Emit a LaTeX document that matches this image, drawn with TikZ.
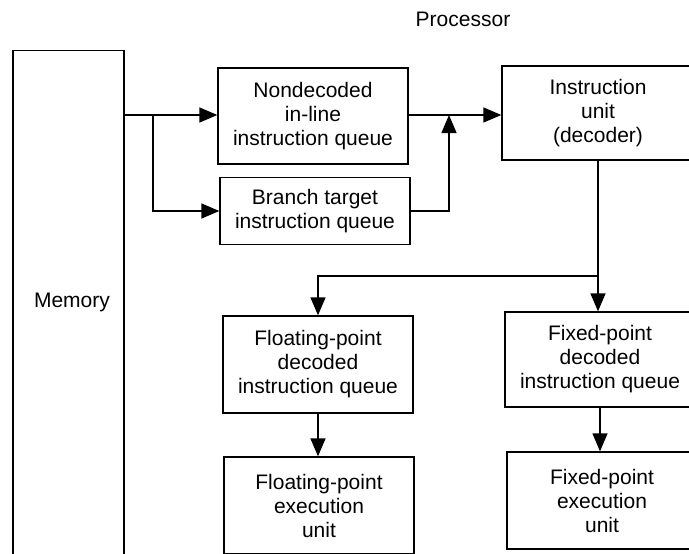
\documentclass[tikz,border=0pt]{standalone}
\usepackage{fontspec}
\setmainfont{Liberation Sans}
\usetikzlibrary{arrows.meta,positioning,calc}

\begin{document}
\begin{tikzpicture}[x=1pt,y=-1pt,line width=1.3pt,
  box/.style={draw,minimum width=190pt,inner sep=0pt,align=center,
    font=\fontsize{21}{24}\selectfont},
  arr/.style={-{Triangle[length=18pt,width=15pt]}}]
\useasboundingbox (0,0) rectangle (689,554);
\clip (0,0) rectangle (689,554);

% Memory
\node[draw,minimum width=111pt,minimum height=530pt,anchor=north] (mem) at (68.5,50) {};
\node[font=\fontsize{21}{24}\selectfont] (memtxt) at (72,302) {Memory};
\node[font=\fontsize{21}{24}\selectfont] (proc) at (463,19) {Processor};

% Instruction queues
\node[box,minimum height=96pt] (nondec) at (313,116) {Nondecoded\\in-line\\instruction queue};
\node[box,minimum height=67pt] (branch) at (315,211) {Branch target\\instruction queue};
\node[box,minimum width=192pt,minimum height=94pt] (iunit) at (598,113) {Instruction\\unit\\(decoder)};

% Decoded queues and execution units
\node[box,minimum height=97pt] (fpq) at (318,364.5) {Floating-point\\decoded\\instruction queue};
\node[box,minimum height=95pt] (fxq) at (600,359.5) {Fixed-point\\decoded\\instruction queue};
\node[box,minimum height=97pt] (fpu) at (319,505.5) {Floating-point\\execution\\unit};
\node[box,minimum height=97pt] (fxu) at (602,500.5) {Fixed-point\\execution\\unit};

% Connectors
\coordinate (split) at (153,115);
\coordinate (merge) at (449,115);
\coordinate (fork) at (598,276);
\draw[arr] (mem.east |- split) -- (split) -- (split -| nondec.west);
\draw[arr] (split) |- (branch.west);
\draw[arr] (nondec.east |- merge) -- (merge -| iunit.west);
\draw[arr] (branch.east) -| (merge);
\draw (iunit.south -| fork) -- (fork);
\draw[arr] (fork) -| (fpq.north);
\draw[arr] (fork) -- (fork |- fxq.north);
\draw[arr] (fpq.south) -- (fpq.south |- fpu.north);
\draw[arr] (fxq.south) -- (fxq.south |- fxu.north);
\end{tikzpicture}
\end{document}
